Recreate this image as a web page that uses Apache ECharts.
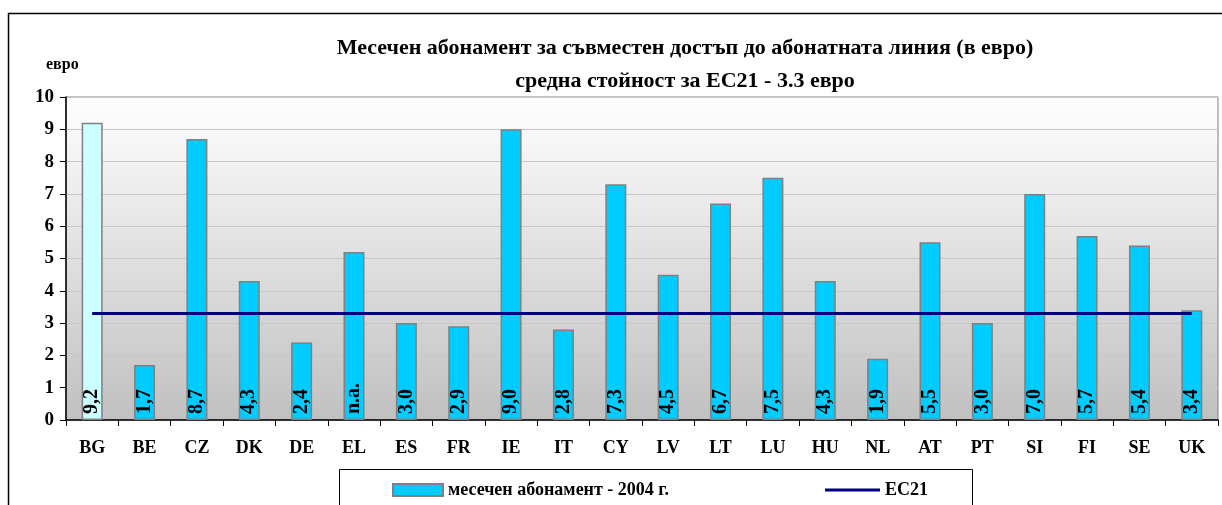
<!DOCTYPE html>
<html><head><meta charset="utf-8">
<script src="https://cdn.jsdelivr.net/npm/echarts@6/dist/echarts.min.js"></script>
<style>html,body{margin:0;padding:0;background:#fff}#c{width:1222px;height:505px}</style>
</head><body><div id="c"></div>
<script>
const categories = ["BG","BE","CZ","DK","DE","EL","ES","FR","IE","IT","CY","LV","LT","LU","HU","NL","AT","PT","SI","FI","SE","UK"];
const monthly2004 = [9.2,1.7,8.7,4.3,2.4,5.2,3.0,2.9,9.0,2.8,7.3,4.5,6.7,7.5,4.3,1.9,5.5,3.0,7.0,5.7,5.4,3.4];
const barLabels = ["9,2","1,7","8,7","4,3","2,4","n.a.","3,0","2,9","9,0","2,8","7,3","4,5","6,7","7,5","4,3","1,9","5,5","3,0","7,0","5,7","5,4","3,4"];
const ec21 = [3.3,3.3,3.3,3.3,3.3,3.3,3.3,3.3,3.3,3.3,3.3,3.3,3.3,3.3,3.3,3.3,3.3,3.3,3.3,3.3,3.3,3.3];
const yTicks = [0,1,2,3,4,5,6,7,8,9,10];
const seriesNames = ["месечен абонамент - 2004 г.", "ЕС21"];
const titleLines = ["Месечен абонамент за съвместен достъп до абонатната линия (в евро)", "средна стойност за ЕС21 - 3.3 евро"];
const unitLabel = "евро";

const F = '"Liberation Serif","Times New Roman",serif';
const legendText = {fontFamily: F, fontWeight: 'bold', fontSize: 18, color: '#000'};
const chart = echarts.init(document.getElementById('c'));
chart.setOption({
  animation: false,
  textStyle: {fontFamily: F},
  title: {
    text: titleLines.join('\n'), left: 680, top: 27, textAlign: 'center',
    textStyle: {fontFamily: F, fontWeight: 'bold', fontSize: 22, lineHeight: 33, color: '#000'}
  },
  graphic: [
    {type: 'rect', shape: {x: 8.5, y: 13.5, width: 1230, height: 500}, style: {fill: 'none', stroke: '#000', lineWidth: 1.5}, silent: true},
    {type: 'rect', shape: {x: 339.5, y: 469.5, width: 633, height: 50}, style: {fill: '#fff', stroke: '#000', lineWidth: 1}, silent: true, z: 0},
    {type: 'text', left: 46, top: 57, style: {text: unitLabel, font: 'bold 16px ' + F, fill: '#000'}}
  ],
  legend: [
    {
      left: 387, top: 476, itemWidth: 50, itemHeight: 12, z: 5,
      data: [{name: seriesNames[0], icon: 'rect'}],
      textStyle: legendText
    },
    {
      left: 820, top: 476, itemWidth: 55, itemHeight: 12, z: 5,
      data: [{name: seriesNames[1], icon: 'path://M0,0H55V3H0Z'}],
      textStyle: legendText
    }
  ],
  grid: {
    left: 66, right: 4, top: 97, bottom: 85, show: true, borderColor: '#808080', borderWidth: 1,
    backgroundColor: {type: 'linear', x: 0, y: 0, x2: 0, y2: 1, colorStops: [{offset: 0, color: '#ffffff'}, {offset: 1, color: '#c0c0c0'}]}
  },
  xAxis: {
    type: 'category', data: categories,
    axisLine: {lineStyle: {color: '#000', width: 1.5}},
    axisTick: {show: true, length: 6, lineStyle: {color: '#000'}},
    axisLabel: {margin: 19, fontFamily: F, fontWeight: 'bold', fontSize: 18, color: '#000'}
  },
  yAxis: {
    type: 'value', min: yTicks[0], max: yTicks[yTicks.length - 1], interval: 1,
    axisLine: {show: true, lineStyle: {color: '#000', width: 1.5}},
    axisTick: {show: true, length: 6, lineStyle: {color: '#000'}},
    axisLabel: {margin: 12, fontFamily: F, fontWeight: 'bold', fontSize: 19, color: '#000'},
    splitLine: {lineStyle: {color: '#c8c8c8', width: 1}}
  },
  series: [
    {
      name: seriesNames[0], type: 'bar', barWidth: 21,
      itemStyle: {color: '#00CCFF', borderColor: '#808080', borderWidth: 1.5},
      data: monthly2004.map((v, i) => i === 0 ? {value: v, itemStyle: {color: '#CCFFFF'}} : v),
      label: {
        show: true, position: 'insideBottom', rotate: 90, align: 'left', verticalAlign: 'middle', distance: 6,
        formatter: p => barLabels[p.dataIndex],
        fontFamily: F, fontWeight: 'bold', fontSize: 20, color: '#000'
      },
      z: 2
    },
    {
      name: seriesNames[1], type: 'line', data: ec21, symbol: 'none',
      lineStyle: {color: '#000080', width: 3}, itemStyle: {color: '#000080'}, z: 3
    }
  ]
});
</script></body></html>
